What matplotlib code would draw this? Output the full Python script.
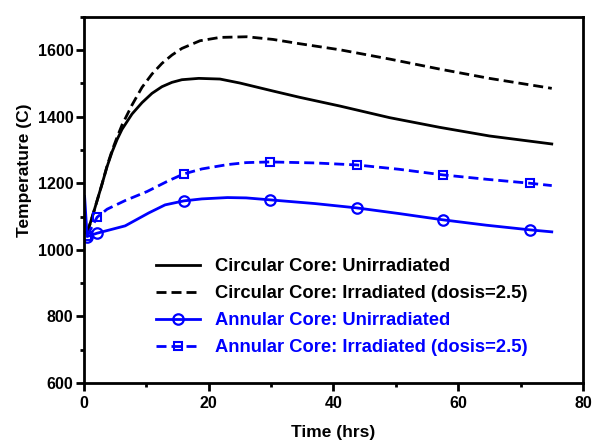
import matplotlib.pyplot as plt
from matplotlib.ticker import MultipleLocator

plt.rcParams['font.family'] = ['Liberation Sans', 'DejaVu Sans']
plt.rcParams['font.weight'] = 'bold'

# Circular core, unirradiated
t_circ = [0.5, 1.5, 2.9, 3.7, 4.5, 5.3, 6.1, 7.7, 9.3, 10.9, 12.5, 14.1, 15.7, 18.4, 21.8,
          25, 30.3, 34.6, 41, 49, 57, 65, 75]
temp_circ = [1050, 1110, 1198, 1250, 1294, 1331, 1362, 1408, 1442, 1470, 1490, 1503, 1511,
             1515, 1513, 1501, 1477, 1458, 1432, 1397, 1368, 1342, 1318]

# Circular core, irradiated (dosis=2.5)
t_circ_irr = [0.5, 1.5, 2.9, 3.7, 4.5, 5.3, 6.1, 7.7, 9.3, 10.9, 12.5, 14.1, 15.7, 18.6,
              21.8, 26.1, 30.3, 34.6, 41, 49, 57, 65, 75]
temp_circ_irr = [1050, 1110, 1198, 1252, 1298, 1338, 1375, 1435, 1488, 1528, 1560, 1585, 1605,
                 1628, 1638, 1640, 1632, 1619, 1601, 1573, 1543, 1515, 1485]

# Annular core, unirradiated
t_ann = [0.1, 0.5, 2.1, 6.6, 10.4, 13, 16.0, 18.9, 23, 26, 29.9, 37, 43.7, 50.5, 57.6, 64.5, 71.5, 75]
temp_ann = [1160, 1040, 1050, 1072, 1111, 1135, 1147, 1153, 1157, 1156, 1150, 1139, 1126,
            1109, 1090, 1074, 1060, 1054]
mk_ann = [1, 2, 6, 10, 12, 14, 16]

# Annular core, irradiated (dosis=2.5)
t_ann_irr = [0.5, 2.1, 3.7, 6.6, 10.1, 13.6, 16.0, 18.9, 23, 26, 29.9, 37, 43.7, 50.5,
             57.6, 64.5, 71.5, 75]
temp_ann_irr = [1042, 1098, 1122, 1148, 1175, 1208, 1228, 1243, 1256, 1262, 1264, 1261, 1255,
                1242, 1225, 1212, 1200, 1193]
mk_ann_irr = [0, 1, 6, 10, 12, 14, 16]

fig = plt.figure(figsize=(5.94, 4.45), dpi=100)
ax = fig.add_axes([0.1414, 0.1393, 0.84, 0.823])

dash = (0, (3.6, 1.8))
ax.plot(t_circ, temp_circ, color='black', lw=2, label='Circular Core: Unirradiated')
ax.plot(t_circ_irr, temp_circ_irr, color='black', lw=2, ls=dash,
        label='Circular Core: Irradiated (dosis=2.5)')
ax.plot(t_ann, temp_ann, color='blue', lw=2, marker='o', ms=7.5, mfc='none', mew=1.6,
        markevery=mk_ann, label='Annular Core: Unirradiated')
ax.plot(t_ann_irr, temp_ann_irr, color='blue', lw=2, ls=dash, marker='s', ms=6,
        mfc='none', mew=1.5, markevery=mk_ann_irr,
        label='Annular Core: Irradiated (dosis=2.5)')

ax.set_xlim(0, 80)
ax.set_ylim(600, 1700)
ax.set_xticks([0, 20, 40, 60, 80])
ax.set_yticks([600, 800, 1000, 1200, 1400, 1600])
ax.xaxis.set_minor_locator(MultipleLocator(10))
ax.yaxis.set_minor_locator(MultipleLocator(100))
ax.tick_params(which='both', direction='out', width=2, labelsize=11.5, top=False, right=False)
ax.tick_params(which='major', length=5.5)
ax.tick_params(which='minor', length=3)
ax.tick_params(axis='y', which='major', pad=2)
ax.tick_params(axis='x', which='major', pad=4)
for s in ax.spines.values():
    s.set_linewidth(2)

ax.set_xlabel('Time (hrs)', fontsize=12.5, fontweight='bold', labelpad=10)
ax.set_ylabel('Temperature (C)', fontsize=12.5, fontweight='bold')
ax.yaxis.set_label_coords(-0.105, 0.58)

leg = ax.legend(loc='center left', bbox_to_anchor=(0.144, 0.207), frameon=False, fontsize=13.2,
                handlelength=2.4, handletextpad=0.8, labelspacing=0.55,
                borderpad=0, borderaxespad=0)
for txt, c in zip(leg.get_texts(), ['black', 'black', 'blue', 'blue']):
    txt.set_color(c)

plt.savefig('out.png')
